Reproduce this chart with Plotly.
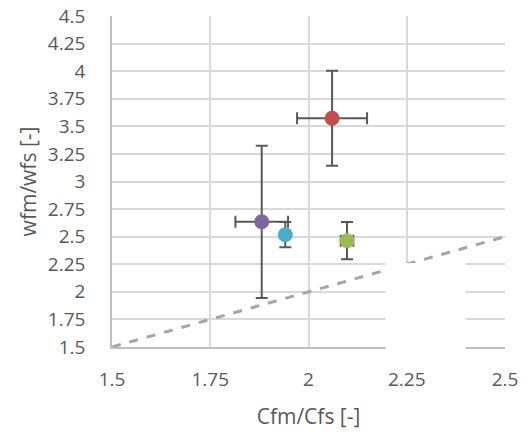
import plotly.graph_objects as go

# Data
names = ["Red", "Purple", "Cyan", "Green"]
x_vals = [2.060, 1.881, 1.941, 2.098]
y_vals = [3.573, 2.635, 2.518, 2.464]
x_err = [0.089, 0.067, 0.0, 0.016]
y_err_plus = [0.43, 0.69, 0.115, 0.168]
y_err_minus = [0.43, 0.69, 0.115, 0.168]
colors = ["#C0504D", "#8064A2", "#4BACC6", "#9BBB59"]

ref_x = [1.5, 2.5]
ref_y = [1.5, 2.5]

x_ticks = [1.5, 1.75, 2, 2.25, 2.5]
x_tick_text = ["1.5", "1.75", "2", "2.25", "2.5"]
y_ticks = [1.5, 1.75, 2, 2.25, 2.5, 2.75, 3, 3.25, 3.5, 3.75, 4, 4.25, 4.5]
y_tick_text = ["1.5", "1.75", "2", "2.25", "2.5", "2.75", "3", "3.25", "3.5", "3.75", "4", "4.25", "4.5"]

font_family = "Open Sans, Noto Sans, sans-serif"

fig = go.Figure()

fig.add_trace(go.Scatter(
    x=ref_x, y=ref_y, mode="lines",
    line=dict(color="#A6A6A6", width=3, dash="dash"),
    showlegend=False, hoverinfo="skip", cliponaxis=True))

for i in range(len(names)):
    fig.add_trace(go.Scatter(
        x=[x_vals[i]], y=[y_vals[i]], mode="markers", name=names[i],
        marker=dict(color=colors[i], size=15, line=dict(width=0)),
        error_x=dict(type="data", array=[x_err[i]], visible=x_err[i] > 0,
                     color="#595959", thickness=2, width=6),
        error_y=dict(type="data", symmetric=False, array=[y_err_plus[i]],
                     arrayminus=[y_err_minus[i]], color="#595959", thickness=2, width=6),
        showlegend=False))

fig.add_shape(type="rect", xref="x", yref="paper",
              x0=2.196, x1=2.400, y0=-0.014, y1=(2.262 - 1.5) / 3.0,
              fillcolor="white", line=dict(width=0), layer="above")

fig.update_layout(
    width=528, height=432,
    margin=dict(l=112, r=23, t=16, b=85, autoexpand=False),
    paper_bgcolor="white", plot_bgcolor="white",
    font=dict(family=font_family, color="#595959", size=19),
    xaxis=dict(range=[1.5, 2.5], tickvals=x_ticks, ticktext=x_tick_text,
               showgrid=True, gridcolor="#D9D9D9", gridwidth=1.5,
               showline=True, linecolor="#BFBFBF", linewidth=1.5, mirror=False,
               zeroline=False, ticks="", ticklabelstandoff=14, automargin=False,
               title=dict(text="Cfm/Cfs [-]", font=dict(size=21, color="#595959"), standoff=19),
               tickfont=dict(size=19, color="#595959")),
    yaxis=dict(range=[1.5, 4.5], tickvals=y_ticks, ticktext=y_tick_text,
               showgrid=True, gridcolor="#D9D9D9", gridwidth=1.5,
               showline=True, linecolor="#BFBFBF", linewidth=1.5, automargin=False,
               zeroline=False, ticks="", ticklabelstandoff=21,
               title=dict(text="wfm/wfs [-]", font=dict(size=21, color="#595959"), standoff=6),
               tickfont=dict(size=19, color="#595959")),
)

fig.write_html("out.html", config={"displayModeBar": False},
               post_script="document.body.style.margin='0';")
